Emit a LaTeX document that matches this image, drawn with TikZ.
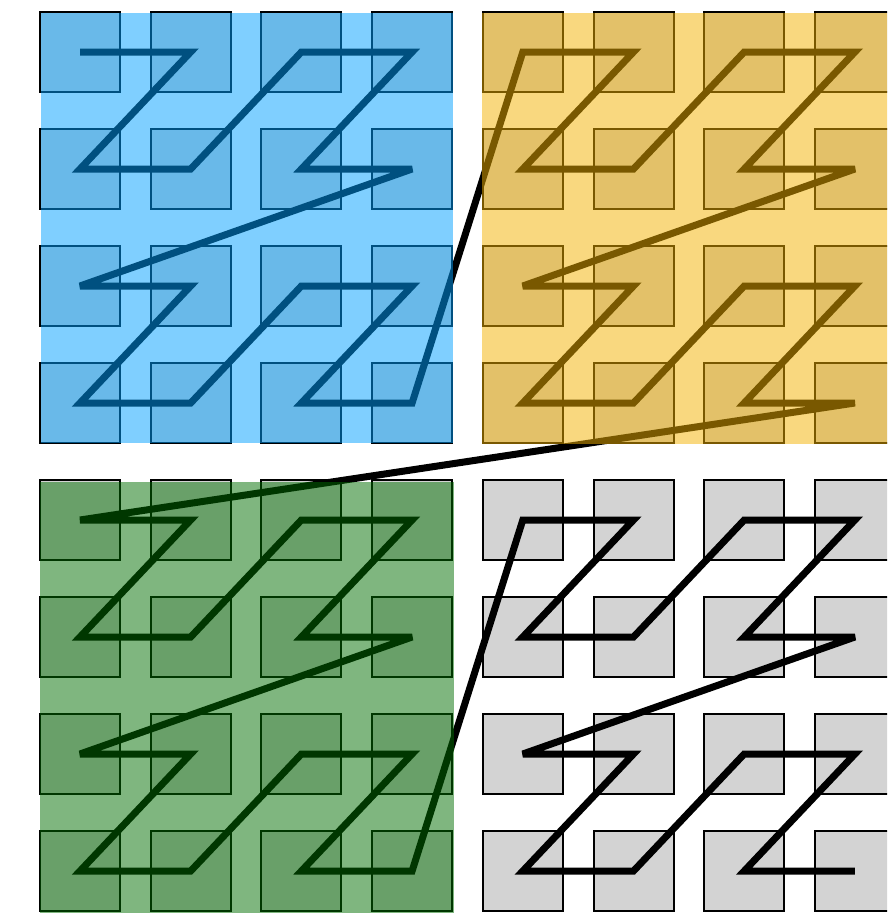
\documentclass[tikz,border=0pt]{standalone}
\definecolor{ovblue}{RGB}{0,160,255}
\definecolor{ovyellow}{RGB}{243,177,0}
\definecolor{ovgreen}{RGB}{0,110,0}
\definecolor{cellgray}{RGB}{211,211,211}
\tikzset{
  cellbox/.style={draw=black, fill=cellgray, line width=2pt},
  zcurve/.style={draw=black, line width=7pt, line join=miter, miter limit=4, line cap=butt},
  overlay/.style={opacity=0.5}
}
\begin{document}
\begin{tikzpicture}[x=1pt,y=-1pt]
\clip (0,0) rectangle (887,913);
\foreach \i in {0,...,7}{
  \foreach \j in {0,...,7}{
    \coordinate (c\i\j) at ({80+110.7*\i},{52+117*\j});
    \draw[cellbox] ({40+110.7*\i},{12+117*\j}) rectangle ++(80,80);
  }
}
\draw[zcurve]
  (c00) -- (c10) -- (c01) -- (c11) -- (c20) -- (c30) -- (c21) -- (c31) --
  (c02) -- (c12) -- (c03) -- (c13) -- (c22) -- (c32) -- (c23) -- (c33) --
  (c40) -- (c50) -- (c41) -- (c51) -- (c60) -- (c70) -- (c61) -- (c71) --
  (c42) -- (c52) -- (c43) -- (c53) -- (c62) -- (c72) -- (c63) -- (c73) --
  (c04) -- (c14) -- (c05) -- (c15) -- (c24) -- (c34) -- (c25) -- (c35) --
  (c06) -- (c16) -- (c07) -- (c17) -- (c26) -- (c36) -- (c27) -- (c37) --
  (c44) -- (c54) -- (c45) -- (c55) -- (c64) -- (c74) -- (c65) -- (c75) --
  (c46) -- (c56) -- (c47) -- (c57) -- (c66) -- (c76) -- (c67) -- (c77);
\fill[overlay, ovblue] (40.5,13) rectangle (453,443);
\fill[overlay, ovyellow] (482,13) rectangle (890,444);
\fill[overlay, ovgreen] (40,482) rectangle (454,916);
\end{tikzpicture}
\end{document}
